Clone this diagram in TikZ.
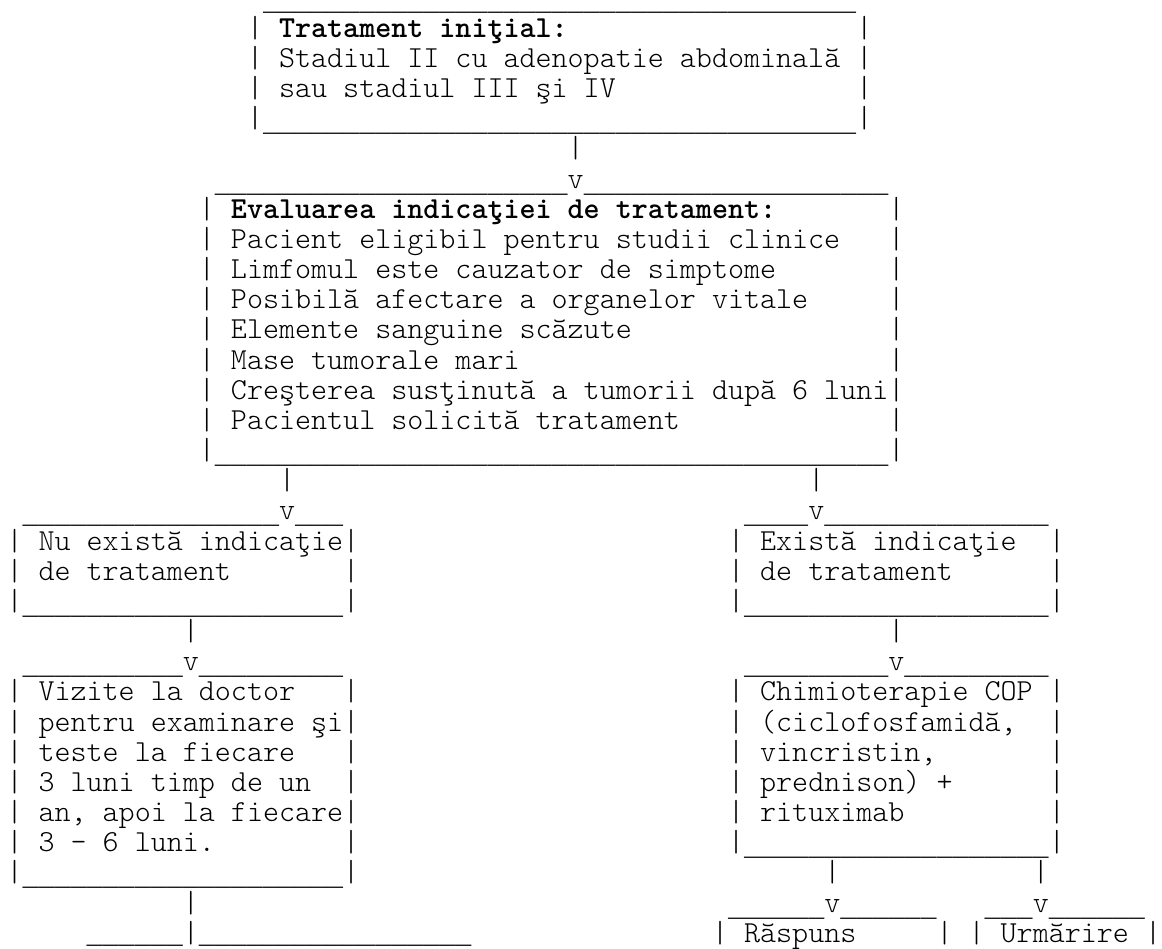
\documentclass[tikz,border=0pt]{standalone}
\usepackage{fontspec}
\newfontfamily\rulemono{Liberation Mono}
% Courier-like thin typewriter face (Latin Modern Mono Light)
\newcommand\asciimono{\ttfamily\fontseries{l}\fontsize{15.27pt}{17pt}\selectfont}
\newcommand\asciiheavy{\ttfamily\fontseries{b}\fontsize{15.27pt}{17pt}\selectfont}
% a run of n underscores (solid ones, sitting below the baseline)
\newcommand\usc[2][-2pt]{{\rulemono\fontsize{13.36pt}{15pt}\selectfont\raisebox{#1}{\foreach \n in {1,...,#2}{\_}}}}

\begin{document}
\begin{tikzpicture}[
        % one unit = one character cell (column / text row)
        x=8.0175pt, y=-15.085pt,
        % Styles
        ascii/.style={font=\asciimono, anchor=base west, inner sep=0pt, outer sep=0pt},
        asciibold/.style={ascii, font=\asciiheavy}
    ]
    \useasboundingbox (-0.4054,0.768) rectangle (72.06,32.19);

    % ================= TOP BOX =================
    \node[ascii] (tratTop) at (16,1) {\usc{37}};
    \foreach \r in {2,...,5} {
        \node[ascii] (tratL\r) at (15,\r) {|};
        \node[ascii] (tratR\r) at (53,\r) {|};
    }
    \node[asciibold] (trat2) at (17,2) {Tratament iniţial:};
    \node[ascii] (trat3) at (17,3) {Stadiul II cu adenopatie abdominală};
    \node[ascii] (trat4) at (17,4) {sau stadiul III şi IV};
    \node[ascii] (tratBot) at (16,5) {\usc{37}};
    \node[ascii] (link1) at (35,6) {|};

    % ================= EVALUATION BOX =================
    \node[ascii] (evalTop) at (13,7) {\usc{22}v\usc{19}};
    \foreach \r in {8,...,16} {
        \node[ascii] (evalL\r) at (12,\r) {|};
        \node[ascii] (evalR\r) at (55,\r) {|};
    }
    \node[asciibold] (eval8) at (14,8) {Evaluarea indicaţiei de tratament:};
    \foreach \rowtext [count=\r from 9] in {Pacient eligibil pentru studii clinice, Limfomul este cauzator de simptome,
            Posibilă afectare a organelor vitale, Elemente sanguine scăzute, Mase tumorale mari,
            Creşterea susţinută a tumorii după 6 luni, Pacientul solicită tratament}
        \node[ascii] (eval\r) at (14,\r) {\rowtext};
    \node[ascii] (evalBot) at (13,16) {\usc{42}};
    \node[ascii] (link2) at (17,17) {|};
    \node[ascii] (link3) at (50,17) {|};

    % ================= LEFT BRANCH =================
    \node[ascii] (nuTop) at (1,18) {\usc{16}v\usc{3}};
    \foreach \r in {19,...,21} {
        \node[ascii] (nuL\r) at (0,\r) {|};
        \node[ascii] (nuR\r) at (21,\r) {|};
    }
    \node[ascii] (nu19) at (2,19) {Nu există indicaţie};
    \node[ascii] (nu20) at (2,20) {de tratament};
    \node[ascii] (nuBot) at (1,21) {\usc{20}};
    \node[ascii] (link4) at (11,22) {|};

    \node[ascii] (vizTop) at (1,23) {\usc{10}v\usc{9}};
    \foreach \r in {24,...,30} {
        \node[ascii] (vizL\r) at (0,\r) {|};
        \node[ascii] (vizR\r) at (21,\r) {|};
    }
    \foreach \rowtext [count=\r from 24] in {Vizite la doctor, pentru examinare şi, teste la fiecare,
            3 luni timp de un, {an, apoi la fiecare}, 3 - 6 luni.}
        \node[ascii] (viz\r) at (2,\r) {\rowtext};
    \node[ascii] (vizBot) at (1,30) {\usc{20}};
    \node[ascii] (link5) at (11,31) {|};
    \node[ascii] (split) at (5,32) {\usc[-0.8pt]{6}|\usc[-0.8pt]{17}};

    % ================= RIGHT BRANCH =================
    \node[ascii] (daTop) at (46,18) {\usc{4}v\usc{14}};
    \foreach \r in {19,...,21} {
        \node[ascii] (daL\r) at (45,\r) {|};
        \node[ascii] (daR\r) at (65,\r) {|};
    }
    \node[ascii] (da19) at (47,19) {Există indicaţie};
    \node[ascii] (da20) at (47,20) {de tratament};
    \node[ascii] (daBot) at (46,21) {\usc{19}};
    \node[ascii] (link6) at (55,22) {|};

    \node[ascii] (chimTop) at (46,23) {\usc{9}v\usc{9}};
    \foreach \r in {24,...,29} {
        \node[ascii] (chimL\r) at (45,\r) {|};
        \node[ascii] (chimR\r) at (65,\r) {|};
    }
    \foreach \rowtext [count=\r from 24] in {Chimioterapie COP, {(ciclofosfamidă,}, {vincristin,},
            {prednison) +}, rituximab}
        \node[ascii] (chim\r) at (47,\r) {\rowtext};
    \node[ascii] (chimBot) at (46,29) {\usc{19}};
    \node[ascii] (link7) at (51,30) {|};
    \node[ascii] (link8) at (64,30) {|};

    % Response / follow-up boxes (cut off at the bottom)
    \node[ascii] (raspTop) at (45,31) {\usc{6}v\usc{6}};
    \node[ascii] (urmTop) at (61,31) {\usc{3}v\usc{6}};
    \node[ascii] (raspL) at (44,32) {|};
    \node[ascii] (rasp) at (46,32) {Răspuns};
    \node[ascii] (raspR) at (58,32) {|};
    \node[ascii] (urmL) at (60,32) {|};
    \node[ascii] (urm) at (62,32) {Urmărire};
    \node[ascii] (urmR) at (71,32) {|};

\end{tikzpicture}
\end{document}
